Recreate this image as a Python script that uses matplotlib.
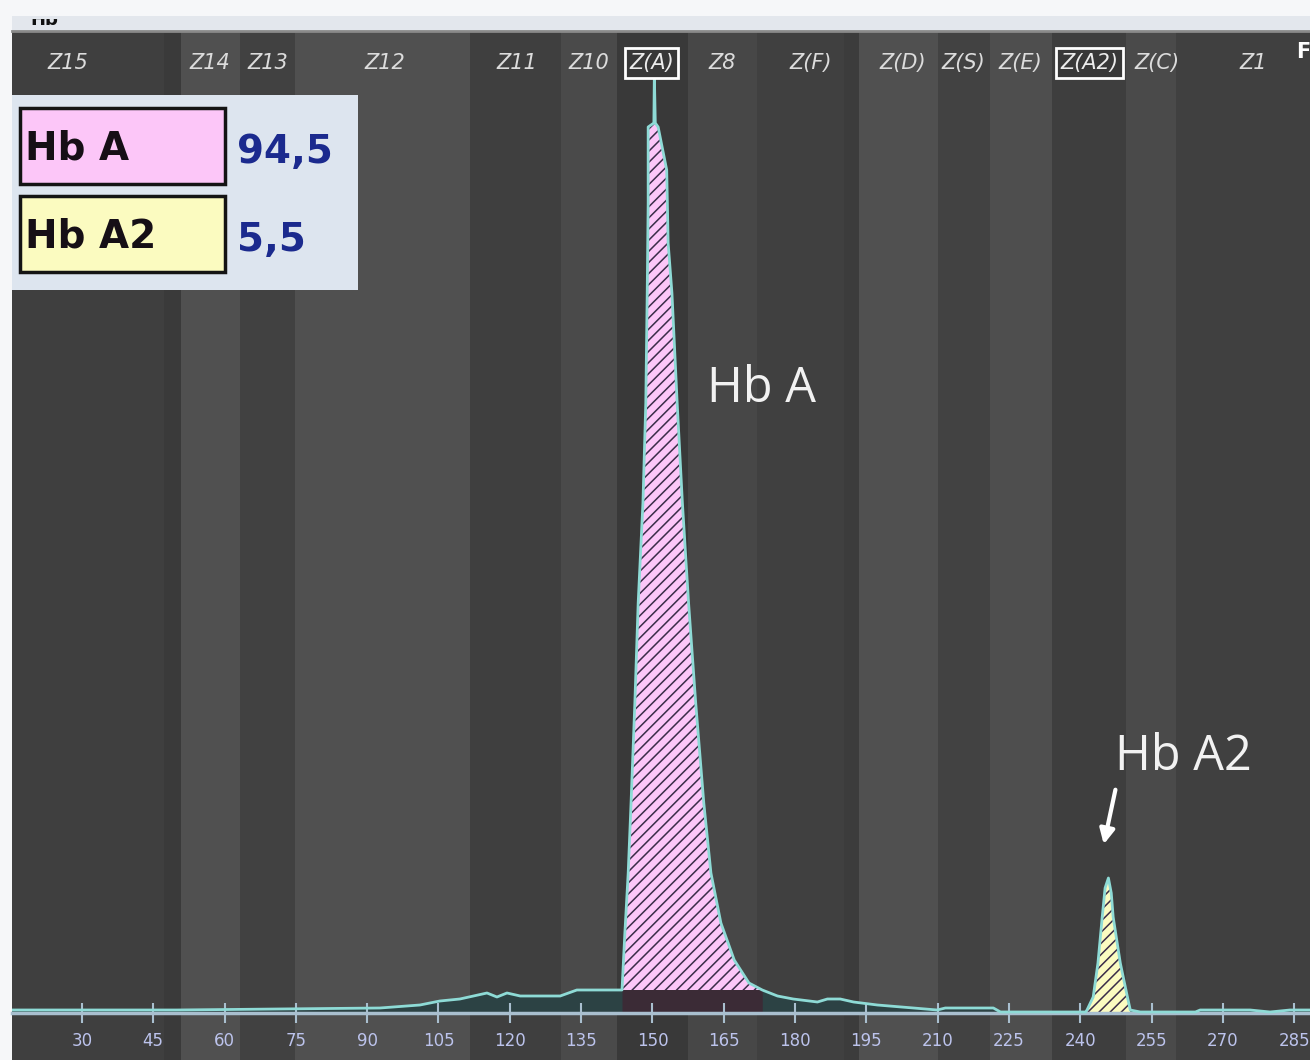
import numpy as np
import matplotlib.pyplot as plt
from matplotlib.patches import Rectangle
from matplotlib.lines import Line2D
from matplotlib.transforms import Bbox

W, H = 1310, 1060

# electropherogram trace: migration position vs. signal
trace_pos = [15.3, 50.0, 92.7, 101.1, 105.3, 109.5, 115.2, 117.3, 119.4, 122.2, 130.6, 134.1, 142.1,
             143.6, 144.2, 144.9, 145.5, 146.3, 147.0, 148.0, 148.6, 148.9, 149.1, 149.1, 150.3, 150.4,
             150.6, 151.2, 153.0, 153.3, 154.1, 154.8, 155.2, 156.3, 157.6, 159.1, 160.8, 162.3, 164.4,
             167.2, 170.3, 173.1,
             176.3, 179.6, 184.7, 186.8, 189.5, 192.3, 197.3, 204.9, 209.9, 211.6, 221.7, 223.2, 241.1,
             241.4, 242.7, 243.7, 244.6, 245.2, 245.9, 246.5, 246.9, 248.4, 249.9, 250.5,
             252.6, 264.2, 265.2, 275.7, 279.9, 284.1, 288.3]
trace_sig = [0.3, 0.3, 0.5, 0.8, 1.2, 1.4, 2.0, 1.6, 2.0, 1.7, 1.7, 2.3, 2.3,
             2.3, 8.0, 14.0, 21.0, 31.0, 41.0, 51.0, 61.0, 72.0, 81.0, 88.6, 89.0, 93.8,
             89.0, 88.6, 84.3, 77.0, 72.0, 65.0, 61.0, 51.0, 41.0, 31.0, 21.0, 14.0, 9.0,
             5.3, 3.0, 2.3,
             1.7, 1.4, 1.1, 1.4, 1.4, 1.1, 0.8, 0.5, 0.3, 0.5, 0.5, 0.1, 0.1,
             0.3, 1.6, 5.0, 9.6, 12.5, 13.5, 12.0, 9.6, 5.0, 1.6, 0.3,
             0.1, 0.1, 0.3, 0.3, 0.1, 0.3, 0.3]

fractions = ['Hb A', 'Hb A2']
percent = [94.5, 5.5]
frac_colors = ['#fcc6f8', '#fbfbc0']
peak_ranges = [(143.6, 173.1), (241.4, 250.5)]
peak_floor = [2.3, 0.0]

zone_names = ['Z15', 'Z14', 'Z13', 'Z12', 'Z11', 'Z10', 'Z(A)', 'Z8', 'Z(F)',
              'Z(D)', 'Z(S)', 'Z(E)', 'Z(A2)', 'Z(C)', 'Z1']
zone_pos = [27.1, 56.9, 69.1, 93.8, 121.5, 136.6, 149.8, 164.7, 183.2,
            202.6, 215.4, 227.4, 241.9, 256.2, 276.4]
boxed_zones = ['Z(A)', 'Z(A2)']

band_edges = [14.9, 47.3, 50.8, 63.2, 74.8, 111.6, 130.8, 142.6, 157.5, 172.0,
              190.3, 193.5, 210.1, 221.1, 234.1, 249.5, 260.2, 288.3]
band_shades = ['#3f3f3f', '#3a3a3a', '#505050', '#414141', '#505050', '#3f3f3f',
               '#4a4a4a', '#393939', '#474747', '#404040', '#3c3c3c', '#505050',
               '#424242', '#4e4e4e', '#3e3e3e', '#4a4a4a', '#404040']

ticks = [30, 45, 60, 75, 90, 105, 120, 135, 150, 165, 180, 195, 210, 225, 240, 255, 270, 285]


def px_rect(x0, y0, x1, y1):
    return [x0 / W, 1 - y1 / H, (x1 - x0) / W, (y1 - y0) / H]


plt.rcParams['font.family'] = ['DejaVu Sans']
plt.rcParams['hatch.linewidth'] = 1.1

fig = plt.figure(figsize=(W / 100, H / 100), dpi=100, facecolor='#f6f7f9')

# header strip
head = fig.add_axes(px_rect(12, 16, W, 32))
head.set_facecolor('#e3e7ed')
head.set_xticks([]); head.set_yticks([])
for s in head.spines.values():
    s.set_visible(False)
t = fig.text(30 / W, 1 - 25 / H, 'Hb', fontsize=13, weight='bold', color='#111111', va='baseline')
t.set_clip_box(Bbox.from_extents(0, H - 32, W, H - 19))
t.set_clip_on(True)
fig.add_artist(Line2D([12 / W, 1], [1 - 31 / H] * 2, color='#8a8a8a', lw=2))

# main electropherogram
ax = fig.add_axes(px_rect(12, 32, W, H))
ax.set_xlim(15.3, 288.3)
ax.set_ylim(-4.7, 98.1)
ax.set_facecolor('#3f3f3f')
for x0, x1, c in zip(band_edges[:-1], band_edges[1:], band_shades):
    ax.axvspan(x0, x1, color=c, lw=0, zorder=0)

pos = np.array(trace_pos)
sig = np.array(trace_sig)
ax.fill_between(pos, 0, sig, color='#2c4244', lw=0, zorder=1)
for (a, b), floor, c in zip(peak_ranges, peak_floor, frac_colors):
    m = (pos >= a) & (pos <= b)
    ax.fill_between(pos[m], 0, sig[m], color='#3b2b36', lw=0, zorder=1.1)
    ax.fill_between(pos[m], floor, sig[m], facecolor=c, edgecolor='#3a2c48',
                    hatch='///', lw=0, zorder=1.2)
ax.plot(pos, sig, color='#8edbd6', lw=2, zorder=3)

for s in ['top', 'right', 'left']:
    ax.spines[s].set_visible(False)
ax.spines['bottom'].set_position(('data', 0))
ax.spines['bottom'].set_color('#a9bfcf')
ax.spines['bottom'].set_linewidth(2.5)
ax.set_yticks([])
ax.set_xticks(ticks)
ax.tick_params(axis='x', direction='inout', length=15, width=1.5, color='#a9bfcf',
               labelcolor='#bcc3ec', labelsize=12, pad=6)

for name, x in zip(zone_names, zone_pos):
    if name in boxed_zones:
        ax.text(x, 95.0, name, ha='center', va='center', fontsize=15, style='italic',
                color='#ececec', zorder=6,
                bbox=dict(boxstyle='square,pad=0.22', fc='#383838', ec='white', lw=2))
    else:
        ax.text(x, 95.0, name, ha='center', va='center', fontsize=15, style='italic',
                color='#dcdcdc', zorder=5)

ax.text(161.5, 61.1, 'Hb A', fontsize=35, family='Open Sans', color='#f2f2f2',
        ha='left', va='baseline', zorder=6)
ax.text(247.3, 24.3, 'Hb A2', fontsize=35, family='Open Sans', color='#f2f2f2',
        ha='left', va='baseline', zorder=6)
ax.annotate('', xy=(244.8, 16.6), xytext=(247.5, 22.6),
            arrowprops=dict(arrowstyle='-|>', color='white', lw=3, mutation_scale=22))

fig.text(1296 / W, 1 - 52 / H, 'F', fontsize=15, weight='bold', color='white', va='center')

# results table
leg = fig.add_axes(px_rect(12, 95, 358, 290))
leg.set_xlim(12, 358)
leg.set_ylim(290, 95)
leg.set_facecolor('#dde5ef')
leg.set_xticks([]); leg.set_yticks([])
for s in leg.spines.values():
    s.set_visible(False)
row_top = [108, 196]
row_base = [160, 248]
for y0, yb, name, val, c in zip(row_top, row_base, fractions, percent, frac_colors):
    leg.add_patch(Rectangle((20, y0), 205, 76, fc=c, ec='#141414', lw=2.5))
    leg.text(25, yb, name, fontsize=28, weight='bold', color='#160f16', va='baseline')
    leg.text(237, yb + 3, f'{val:.1f}'.replace('.', ','), fontsize=28, weight='bold',
             color='#1b2a8e', va='baseline')

fig.savefig('out.png', dpi=100, facecolor=fig.get_facecolor())
